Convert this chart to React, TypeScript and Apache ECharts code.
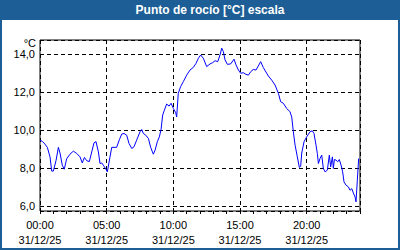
import React, { useEffect, useRef } from "react";
import * as echarts from "echarts";

const chartTitle = "Punto de rocío [°C] escala";
const unitLabel = "°C";
const dateLabel = "31/12/25";
const xTickLabels = ["00:00", "05:00", "10:00", "15:00", "20:00"];

const hours = [
  0.0, 0.2, 0.37, 0.55, 0.75, 0.88, 1.0, 1.2, 1.38, 1.5, 1.67, 1.82, 2.0, 2.25, 2.5, 2.75, 3.0, 3.17, 3.33, 3.5, 3.7, 3.88,
  4.05, 4.2, 4.38, 4.5, 4.63, 4.75, 4.95, 5.05, 5.25, 5.38, 5.75, 5.95, 6.13, 6.3, 6.5, 6.68, 6.88, 7.05, 7.25, 7.5, 7.63,
  7.75, 7.93, 8.13, 8.3, 8.5, 8.63, 8.8, 8.95, 9.08, 9.2, 9.33, 9.5, 9.68, 9.83, 10.0, 10.18, 10.25, 10.37, 10.55, 10.75,
  11.0, 11.25, 11.5, 11.7, 11.88, 12.05, 12.25, 12.5, 12.75, 12.95, 13.13, 13.33, 13.5, 13.63, 13.75, 13.88, 14.05, 14.3,
  14.55, 14.7, 14.88, 15.05, 15.25, 15.45, 15.63, 15.8, 16.0, 16.2, 16.37, 16.55, 16.75, 16.9, 17.12, 17.38, 17.63, 17.88,
  18.05, 18.25, 18.5, 18.75, 18.88, 19.0, 19.13, 19.3, 19.45, 19.55, 19.63, 19.8, 20.0, 20.25, 20.42, 20.55, 20.7, 20.8,
  20.88, 21.0, 21.13, 21.25, 21.38, 21.55, 21.7, 21.8, 21.93, 22.0, 22.08, 22.2, 22.33, 22.45, 22.58, 22.7, 22.8, 22.95,
  23.13, 23.25, 23.38, 23.5, 23.63, 23.7, 23.8, 23.9,
];

const dewPoint = [
  9.48, 9.4, 9.27, 9.1, 8.6, 7.85, 7.85, 8.4, 9.1, 8.8, 8.16, 7.95, 8.5, 8.74, 8.9, 8.78, 8.6, 8.28, 8.57, 8.4, 8.35, 8.86,
  9.34, 9.4, 8.86, 8.25, 8.28, 8.16, 7.94, 7.81, 8.6, 9.1, 9.1, 9.5, 9.8, 9.83, 9.74, 9.3, 9.04, 9.13, 9.48, 9.92, 10.04,
  9.83, 9.74, 9.57, 9.1, 8.74, 8.95, 9.4, 9.65, 10.04, 10.8, 11.06, 11.38, 11.27, 11.42, 11.15, 10.92, 10.7, 11.94, 12.3,
  12.56, 12.9, 13.17, 13.31, 13.52, 13.79, 13.96, 13.79, 13.35, 13.49, 13.56, 13.66, 13.61, 13.96, 14.32, 14.14, 13.7,
  13.47, 13.49, 13.74, 13.44, 13.17, 13.0, 13.03, 12.94, 12.9, 13.08, 13.2, 13.17, 13.38, 13.61, 13.3, 13.12, 12.86, 12.64,
  12.38, 11.94, 11.5, 11.42, 11.15, 10.97, 10.7, 9.92, 9.22, 8.6, 8.04, 8.1, 8.8, 9.39, 9.65, 9.92, 9.97, 9.83, 9.22, 8.78,
  8.25, 8.51, 8.69, 7.99, 7.81, 7.9, 8.69, 8.07, 8.6, 7.99, 8.46, 8.43, 8.34, 8.46, 8.16, 7.81, 7.28, 7.11, 7.02, 6.84,
  6.93, 6.7, 6.49, 6.23, 7.37, 8.51,
];

const FONT = "Liberation Sans";

export default function App() {
  const ref = useRef<HTMLDivElement>(null);

  useEffect(() => {
    if (!ref.current) return;
    const chart = echarts.init(ref.current, null, { renderer: "svg", width: 400, height: 250 });
    const data = hours.map((h, i) => [h, dewPoint[i]]);
    chart.setOption({
      animation: false,
      backgroundColor: "#ffffff",
      textStyle: { fontFamily: FONT },
      grid: {
        left: 40,
        top: 40,
        right: 40,
        bottom: 39,
        show: true,
        borderColor: "#000000",
        borderWidth: 1,
        backgroundColor: "#ffffff",
      },
      graphic: [
        {
          type: "rect",
          z: 0,
          silent: true,
          shape: { x: 0, y: 0, width: 400, height: 20 },
          style: { fill: "#1d5e96" },
        },
        {
          type: "rect",
          z: 0,
          silent: true,
          shape: { x: 1, y: 1, width: 398, height: 248 },
          style: { fill: "none", stroke: "#1d5e96", lineWidth: 2 },
        },
        {
          type: "text",
          z: 10,
          x: 210,
          y: 10,
          style: {
            text: chartTitle,
            fill: "#ffffff",
            font: `bold 12px "${FONT}"`,
            align: "center",
            verticalAlign: "middle",
          },
        },
        {
          type: "text",
          z: 10,
          x: 36,
          y: 43,
          style: {
            text: unitLabel,
            fill: "#000000",
            font: `11px "${FONT}"`,
            align: "right",
            verticalAlign: "middle",
          },
        },
      ],
      xAxis: [
        {
          type: "value",
          min: 0,
          max: 24,
          interval: 5,
          axisLine: { show: false },
          axisTick: { show: false },
          splitLine: { show: true, lineStyle: { color: "#000000", type: [4, 3], width: 1 } },
          axisLabel: {
            color: "#000000",
            fontSize: 11,
            fontFamily: FONT,
            lineHeight: 15,
            margin: 6,
            showMaxLabel: false,
            formatter: (v: number) => {
              const idx = Math.round(v / 5);
              if (v % 5 !== 0 || idx >= xTickLabels.length) return "";
              return `${xTickLabels[idx]}\n${dateLabel}`;
            },
          },
        },
        {
          type: "value",
          position: "bottom",
          min: 0,
          max: 24,
          interval: 1,
          axisLine: { show: false },
          axisTick: { show: true, length: 3, lineStyle: { color: "#000000" } },
          splitLine: { show: false },
          axisLabel: { show: false },
        },
      ],
      yAxis: {
        type: "value",
        min: 5.75,
        max: 14.75,
        splitNumber: 4,
        minInterval: 2,
        maxInterval: 2,
        axisLine: { show: false },
        axisTick: { show: false },
        splitLine: { show: true, lineStyle: { color: "#000000", type: [4, 3], width: 1 } },
        axisLabel: {
          color: "#000000",
          fontSize: 11,
          fontFamily: FONT,
          margin: 5,
          showMinLabel: false,
          showMaxLabel: false,
          formatter: (v: number) => {
            if (Math.abs(v - Math.round(v)) > 1e-6 || Math.round(v) % 2 !== 0) return "";
            return v.toFixed(1).replace(".", ",");
          },
        },
      },
      series: [
        {
          type: "line",
          xAxisIndex: 0,
          data,
          showSymbol: false,
          symbol: "none",
          lineStyle: { color: "#0000ff", width: 1 },
          itemStyle: { color: "#0000ff" },
        },
      ],
    });
    return () => chart.dispose();
  }, []);

  return (
    <div
      ref={ref}
      style={{ position: "fixed", left: 0, top: 0, width: 400, height: 250 }}
    />
  );
}
